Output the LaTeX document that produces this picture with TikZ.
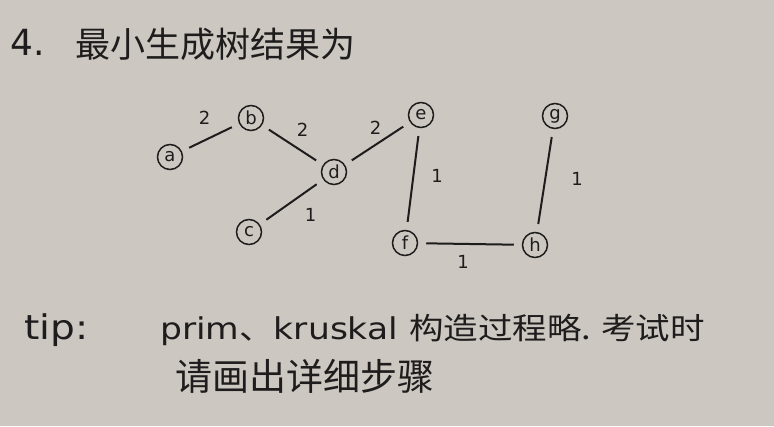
\documentclass[tikz,border=0pt]{standalone}
\usepackage{fontspec}
\usetikzlibrary{calc}
\setmainfont{DejaVu Sans}
\newfontfamily\cjk{Noto Sans CJK SC}
\newfontfamily\cjkw{Noto Sans CJK SC}[FakeStretch=1.15]
\newfontfamily\latw{DejaVu Sans}[FakeStretch=1.15]
\definecolor{paper}{RGB}{204,199,192}
\definecolor{ink}{RGB}{30,28,28}
\tikzset{
  vtx/.style={circle,draw=ink,line width=1.5pt,inner sep=0pt,minimum size=25pt,text=ink,font=\fontsize{18}{18}\selectfont},
  edg/.style={draw=ink,line width=2pt,shorten >=8pt,shorten <=8pt},
  wt/.style={text=ink,font=\fontsize{18}{18}\selectfont},
  hand/.style={text=ink,anchor=west,inner sep=0pt}
}
\begin{document}
\begin{tikzpicture}[x=1pt,y=-1pt]
\fill[paper] (0,0) rectangle (774,426);
\useasboundingbox (0,0) rectangle (774,426);
% title
\node[hand,font=\fontsize{36}{36}\selectfont] (num) at (10,42) {4.};
\node[hand,font=\cjk\fontsize{35}{35}\selectfont] (title) at (75,44) {最小生成树结果为};
% vertices
\node[vtx] (a) at (170,157) {a};
\node[vtx] (b) at (251,118) {b};
\node[vtx] (c) at (249,232) {c};
\node[vtx] (d) at (334,172) {d};
\node[vtx] (e) at (421,115) {e};
\node[vtx] (f) at (405,243) {f};
\node[vtx] (g) at (555,116) {g};
\node[vtx] (h) at (535,245) {h};
% edges
\draw[edg] (a) -- (b);
\draw[edg] (b) -- (d);
\draw[edg] (d) -- (e);
\draw[edg] (d) -- (c);
\draw[edg] (e) -- (f);
\draw[edg] (f) -- (h);
\draw[edg] (g) -- (h);
% weights
\node[wt] (wab) at ($(a)!0.5!(b)+(-6,-20)$) {2};
\node[wt] (wbd) at ($(b)!0.5!(d)+(10,-15)$) {2};
\node[wt] (wde) at ($(d)!0.5!(e)+(-2,-16)$) {2};
\node[wt] (wdc) at ($(d)!0.5!(c)+(19,13)$) {1};
\node[wt] (wef) at ($(e)!0.5!(f)+(24,-3)$) {1};
\node[wt] (wfh) at ($(f)!0.5!(h)+(-7,18)$) {1};
\node[wt] (wgh) at ($(g)!0.5!(h)+(32,-2)$) {1};
% tip
\node[hand,font=\latw\fontsize{34}{34}\selectfont] (tip) at (24,330) {tip:};
\node[hand,font=\latw\fontsize{30}{30}\selectfont] (tip1) at (160,330) {prim{\cjkw 、}kruskal {\cjkw 构造过程略. 考试时}};
\node[hand,font=\cjk\fontsize{37}{37}\selectfont] (tip2) at (175,376) {请画出详细步骤};
\end{tikzpicture}
\end{document}
